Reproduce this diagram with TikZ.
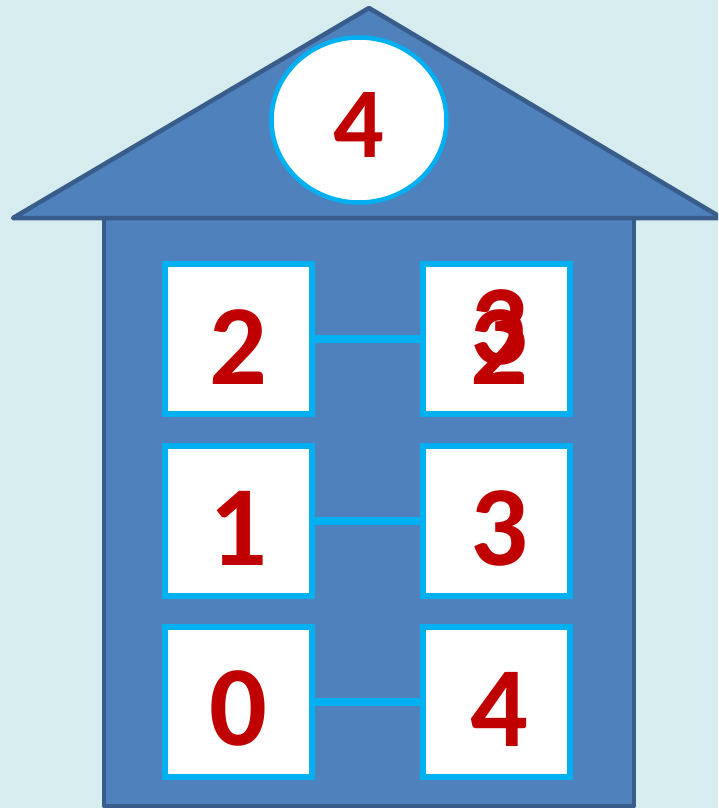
\documentclass[tikz,border=0pt]{standalone}
\usepackage{fontspec}
\setmainfont{Carlito}[BoldFont={Carlito Bold}]
\newfontfamily\digitfont{Carlito Bold}
\usepackage{tikz}
\usetikzlibrary{calc, shapes.geometric}

\definecolor{skybg}{RGB}{214,236,238}
\definecolor{housefill}{RGB}{79,129,189}
\definecolor{houseline}{RGB}{56,93,138}
\definecolor{cyanline}{RGB}{0,176,240}
\definecolor{digitred}{RGB}{192,0,0}

\begin{document}
\begin{tikzpicture}[
        x=0.02cm, y=-0.02cm,
        house/.style={fill=housefill, draw=houseline, line width=4.5*0.02cm, line join=round},
        numbox/.style={rectangle, draw=cyanline, fill=white, line width=6*0.02cm,
                       minimum width=147*0.02cm, minimum height=150*0.02cm, inner sep=0pt},
        digit/.style={text=digitred, font=\fontsize{65}{65}\digitfont, inner sep=0pt},
        topdigit/.style={text=digitred, font=\fontsize{57}{57}\digitfont, inner sep=0pt},
        link/.style={draw=cyanline, line width=8*0.02cm}
    ]
        % background
        \fill[skybg] (0,0) rectangle (718,808);
        \clip (0,0) rectangle (718,808);

        % house: body and roof
        \draw[house] (104,218) rectangle (634,806);
        \draw[house] (13,218) -- (369,8) -- (722,218) -- cycle;

        % roof number
        \node[ellipse, draw=cyanline, fill=white, line width=4.5*0.02cm,
              minimum width=175*0.02cm, minimum height=165*0.02cm] (top) at (359,120) {};
        \node[topdigit] (ntop) at ($(top)+(0,5)$) {4};

        % boxes
        \node[numbox] (l1) at (238.5,339) {};
        \node[numbox] (r1) at (496,339) {};
        \node[numbox] (l2) at (238.5,521) {};
        \node[numbox] (r2) at (496,521) {};
        \node[numbox] (l3) at (238.5,702) {};
        \node[numbox] (r3) at (496,702) {};

        % connectors
        \draw[link] (l1.east) -- (r1.west);
        \draw[link] (l2.east) -- (r2.west);
        \draw[link] (l3.east) -- (r3.west);

        % digits
        \node[digit] (dl1) at ($(l1)+(0,8)$) {2};
        \node[digit] (dr1a) at ($(r1)+(3,-12)$) {3};
        \node[digit] (dr1b) at ($(r1)+(3,8)$) {2};
        \node[digit] (dl2) at ($(l2)+(0,7)$) {1};
        \node[digit] (dr2) at ($(r2)+(3,7)$) {3};
        \node[digit] (dl3) at ($(l3)+(0,6)$) {0};
        \node[digit] (dr3) at ($(r3)+(3,7)$) {4};
\end{tikzpicture}
\end{document}
